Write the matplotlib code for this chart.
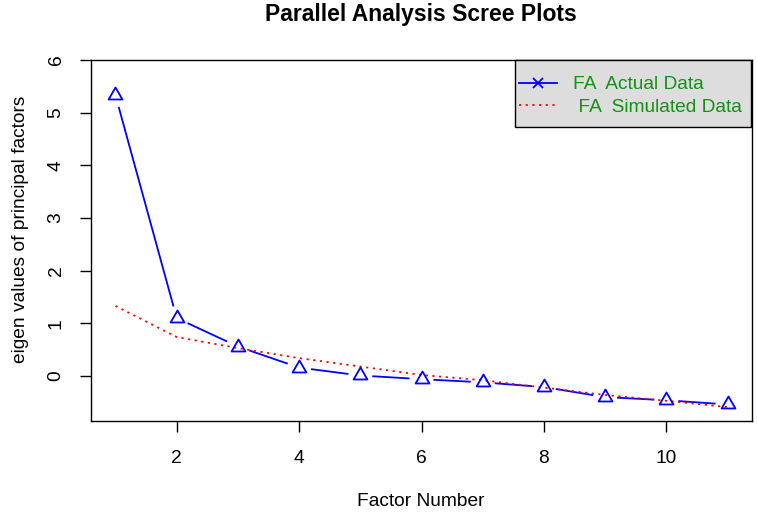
import numpy as np
import matplotlib
matplotlib.use('Agg')
import matplotlib.pyplot as plt
from matplotlib.lines import Line2D
from matplotlib.patches import Rectangle
from matplotlib.path import Path

plt.rcParams['font.family'] = ['Liberation Sans', 'DejaVu Sans']

factors = list(range(1, 12))
actual = [5.33, 1.10, 0.56, 0.16, 0.01, -0.06, -0.12, -0.21, -0.40, -0.46, -0.54]
simulated = [1.33, 0.74, 0.53, 0.34, 0.18, 0.02, -0.08, -0.22, -0.36, -0.47, -0.59]
xticks = [2, 4, 6, 8, 10]
yticks = [0, 1, 2, 3, 4, 5, 6]
title = 'Parallel Analysis Scree Plots'
xlabel = 'Factor Number'
ylabel = 'eigen values of principal factors'
labels = ['FA  Actual Data', ' FA  Simulated Data']

W, H = 757, 514
fig = plt.figure(figsize=(W / 100, H / 100), dpi=100)
ax = fig.add_axes([91 / W, 1 - 421 / H, (752 - 91) / W, (421 - 60) / H])
ax.set_xlim(0.6, 11.4)
ax.set_ylim(-0.854, 6.0)

tri = Path([(0, 1), (-0.866, -0.5), (0.866, -0.5), (0, 1)], closed=True)

# actual data: line with gaps around markers (R type="b")
disp = ax.transData.transform(np.column_stack([factors, actual]))
gap = 12.0
inv = ax.transData.inverted()
for i in range(len(disp) - 1):
    p, q = disp[i], disp[i + 1]
    d = q - p
    L = np.hypot(*d)
    if L > 2 * gap:
        u = d / L
        seg = inv.transform(np.array([p + u * gap, q - u * gap]))
        ax.plot(seg[:, 0], seg[:, 1], color='blue', lw=1.3, solid_capstyle='butt')
ax.plot(factors, actual, linestyle='none', marker=tri, markersize=11.5,
        mfc='none', mec='blue', mew=1.3, zorder=3)

ax.plot(factors, simulated, color='red', lw=1.3, linestyle=(0, (1.2, 2.5)), zorder=2)

ax.set_xticks(xticks)
ax.set_yticks(yticks)
ax.tick_params(axis='both', direction='out', length=8, width=1, labelsize=13.8, colors='black')
ax.tick_params(axis='x', pad=13)
ax.tick_params(axis='y', pad=11)
for lab in ax.get_yticklabels():
    lab.set_rotation(90)
    lab.set_va('center')
for s in ax.spines.values():
    s.set_linewidth(1.0)
    s.set_color('black')

# legend box
rect = Rectangle((515 / W, 1 - 127 / H), (751 - 515) / W, (127 - 60) / H,
                 transform=fig.transFigure, facecolor='#DDDDDD', edgecolor='black',
                 lw=1.0, zorder=4, clip_on=False)
ax.add_patch(rect)
handles = [Line2D([], [], color='blue', lw=1.3, marker='x', markersize=7, mew=1.3),
           Line2D([], [], color='red', lw=1.3, linestyle=(0, (1.2, 2.5)))]
leg = ax.legend(handles, labels, loc='upper left',
                bbox_to_anchor=(519 / W, 1 - 76 / H), bbox_transform=fig.transFigure,
                frameon=False, fontsize=13.8, labelcolor='#159015', handlelength=2.0,
                handletextpad=0.8, borderpad=0, borderaxespad=0, labelspacing=0.28)
leg.set_zorder(5)

fig.text(421 / W, 1 - 15 / H, title, ha='center', va='center', fontsize=16.5, fontweight='bold')
fig.text(421 / W, 1 - 501 / H, xlabel, ha='center', va='center', fontsize=13.8)
fig.text(21 / W, 1 - 229 / H, ylabel, ha='center', va='center', fontsize=13.8, rotation=90)

fig.savefig('out.png', dpi=100)
